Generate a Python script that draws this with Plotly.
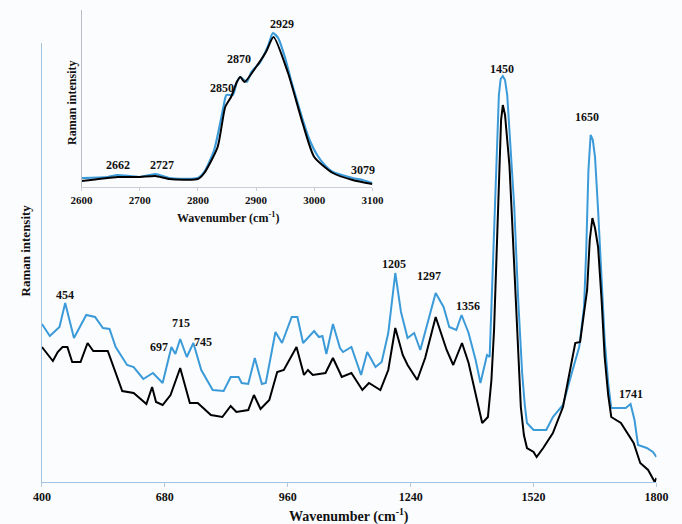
import plotly.graph_objects as go

# Main spectrum, 400-1800 cm-1 (arbitrary intensity units)
wn_blue = [400, 418, 440, 453, 473, 501, 521, 539, 554, 568, 594, 609, 631, 653, 675,
           695, 704, 715, 730, 745, 763, 789, 814, 830, 848, 855, 870, 885, 901, 910,
           932, 947, 969, 982, 995, 1020, 1031, 1039, 1048, 1063, 1079, 1086, 1105,
           1127, 1141, 1160, 1174, 1189, 1205, 1218, 1233, 1248, 1262, 1282, 1297,
           1315, 1328, 1344, 1356, 1372, 1388, 1399, 1414, 1420, 1422, 1427, 1432,
           1437, 1441, 1445, 1450, 1455, 1460, 1465, 1470, 1476, 1485, 1494, 1500,
           1505, 1520, 1549, 1564, 1587, 1609, 1624, 1635, 1640, 1645, 1650, 1655,
           1660, 1667, 1675, 1682, 1690, 1697, 1719, 1730, 1741, 1750, 1758, 1778,
           1792, 1800]
int_blue = [158, 146, 155, 179, 144, 167, 165, 154, 153, 135, 117, 115, 103, 109, 99,
            135, 128, 143, 125, 139, 112, 92, 91, 105, 105, 99, 98, 124, 98, 99,
            150, 139, 165, 165, 139, 151, 145, 146, 128, 158, 134, 130, 135,
            107, 130, 115, 120, 149, 209, 170, 144, 149, 132, 165, 189,
            175, 155, 152, 167, 149, 122, 99, 127, 125, 152, 212, 275,
            342, 387, 403, 406, 402, 387, 352, 317, 275, 182, 109, 77,
            59, 52, 52, 65, 77, 112, 135, 175, 232, 312, 347, 342,
            325, 272, 209, 142, 99, 74, 74, 74, 78, 62, 37, 34,
            30, 25]

wn_black = [400, 425, 436, 447, 458, 469, 488, 504, 517, 550, 583, 609, 638, 651, 660,
            675, 693, 715, 737, 755, 785, 811, 830, 843, 870, 883, 898, 918, 936, 951,
            980, 997, 1006, 1017, 1046, 1063, 1079, 1083, 1105, 1130, 1145, 1171, 1189,
            1205, 1222, 1233, 1255, 1273, 1297, 1322, 1337, 1357, 1372, 1392, 1403,
            1416, 1424, 1430, 1436, 1441, 1446, 1450, 1455, 1460, 1465, 1470, 1475,
            1480, 1485, 1491, 1498, 1505, 1520, 1527, 1542, 1564, 1587, 1615, 1626,
            1635, 1642, 1648, 1654, 1660, 1667, 1675, 1682, 1690, 1697, 1719, 1734,
            1748, 1763, 1781, 1796, 1800]
int_black = [135, 121, 130, 135, 135, 120, 120, 139, 131, 131, 91, 89, 78, 95, 80,
             77, 87, 114, 79, 79, 67, 65, 76, 70, 72, 87, 73, 82, 110, 112,
             135, 107, 112, 107, 109, 124, 109, 105, 109, 92, 99, 92, 112,
             154, 127, 117, 102, 124, 165, 132, 117, 139, 119, 79, 59,
             65, 102, 152, 232, 309, 362, 377, 367, 342, 317, 272, 224,
             175, 122, 75, 47, 34, 30, 25, 34, 49, 75, 139, 140,
             167, 192, 242, 264, 254, 235, 182, 125, 87, 65, 59, 49,
             39, 19, 12, 0, 4]

# High-wavenumber region, 2600-3100 cm-1
wn_hi_blue = [2600, 2645, 2662, 2700, 2727, 2751, 2800, 2811, 2828, 2844, 2849, 2860,
              2867, 2873, 2884, 2892, 2906, 2920, 2929, 2938, 2950, 2960, 2970, 2982,
              2992, 3005, 3018, 3032, 3066, 3083, 3100]
int_hi_blue = [9, 10, 12, 10, 13, 9, 9, 15, 37, 80, 92, 92,
               105, 110, 105, 115, 124, 140, 154, 149, 129, 107, 87, 64,
               47, 32, 22, 15, 9, 7, 4]

wn_hi_black = [2600, 2662, 2700, 2727, 2751, 2800, 2811, 2834, 2847, 2857, 2867, 2873,
               2880, 2900, 2917, 2930, 2955, 2980, 3000, 3032, 3066, 3100]
int_hi_black = [6, 10, 10, 11, 8, 8, 14, 40, 80, 90, 105, 110,
                105, 120, 135, 150, 114, 64, 30, 14, 7, 3]

main_ticks = [400, 680, 960, 1240, 1520, 1800]
inset_ticks = [2600, 2700, 2800, 2900, 3000, 3100]

main_peaks = [454, 697, 715, 745, 1205, 1297, 1356, 1450, 1650, 1741]
main_peak_pos = [(453, 187), (667, 135), (717, 159), (767, 140), (1203, 218),
                 (1282, 206), (1370, 176), (1448, 413), (1642, 365), (1741, 88)]
inset_peaks = [2662, 2727, 2850, 2870, 2929, 3079]
inset_peak_pos = [(2663, 22), (2738, 22), (2841, 99), (2871, 128), (2944, 163), (3084, 17)]

BLUE = "#3b9ad8"
BLACK = "#000000"
FONT = "Liberation Serif"
W, H = 682, 524


def px(x):
    return x / W


def py(y):
    return 1 - y / H


fig = go.Figure()
fig.add_trace(go.Scatter(x=wn_blue, y=int_blue, mode="lines",
                         line=dict(color=BLUE, width=2), xaxis="x", yaxis="y"))
fig.add_trace(go.Scatter(x=wn_black, y=int_black, mode="lines",
                         line=dict(color=BLACK, width=2), xaxis="x", yaxis="y"))
fig.add_trace(go.Scatter(x=wn_hi_blue, y=int_hi_blue, mode="lines",
                         line=dict(color=BLUE, width=2.2, shape="spline", smoothing=0.6),
                         xaxis="x2", yaxis="y2"))
fig.add_trace(go.Scatter(x=wn_hi_black, y=int_hi_black, mode="lines",
                         line=dict(color=BLACK, width=2, shape="spline", smoothing=0.6),
                         xaxis="x2", yaxis="y2"))

annotations = []
for lab, (x, y) in zip(main_peaks, main_peak_pos):
    annotations.append(dict(x=x, y=y, xref="x", yref="y", text=f"<b>{lab}</b>", showarrow=False,
                            font=dict(family=FONT, size=12, color="#111111"),
                            xanchor="center", yanchor="middle"))
for lab, (x, y) in zip(inset_peaks, inset_peak_pos):
    annotations.append(dict(x=x, y=y, xref="x2", yref="y2", text=f"<b>{lab}</b>", showarrow=False,
                            font=dict(family=FONT, size=12, color="#111111"),
                            xanchor="center", yanchor="middle"))

# Axis titles
annotations += [
    dict(x=px(350), y=py(515), xref="paper", yref="paper", showarrow=False,
         text="<b>Wavenumber (cm<sup>-1</sup>)</b>",
         font=dict(family=FONT, size=14, color="#111111"), xanchor="center", yanchor="middle"),
    dict(x=px(15), y=py(250), xref="paper", yref="paper", showarrow=False,
         text="<b>Raman intensity</b>", textangle=-90,
         font=dict(family=FONT, size=13, color="#111111"), xanchor="center", yanchor="middle"),
    dict(x=px(225), y=py(217), xref="paper", yref="paper", showarrow=False,
         text="<b>Wavenumber (cm<sup>-1</sup>)</b>",
         font=dict(family=FONT, size=12, color="#111111"), xanchor="center", yanchor="middle"),
    dict(x=px(63), y=py(103), xref="paper", yref="paper", showarrow=False,
         text="<b>Raman intensity</b>", textangle=-90,
         font=dict(family=FONT, size=12, color="#111111"), xanchor="center", yanchor="middle"),
]

fig.update_layout(
    width=W, height=H,
    margin=dict(l=0, r=0, t=0, b=0),
    paper_bgcolor="#fbfcfe", plot_bgcolor="rgba(0,0,0,0)",
    showlegend=False,
    annotations=annotations,
    xaxis=dict(domain=[px(32), px(668)], range=[400, 1800], tickvals=main_ticks,
               ticktext=[f"<b>{t}</b>" for t in main_ticks],
               showline=True, linecolor="#9fc3e0", linewidth=1, ticks="outside",
               ticklen=4, tickcolor="#b5c9dc", showgrid=False, zeroline=False,
               tickfont=dict(family=FONT, size=12, color="#111111")),
    yaxis=dict(domain=[py(482), py(43)], range=[0, 439], showline=True,
               linecolor="#9fc3e0", linewidth=1, showticklabels=False, ticks="",
               showgrid=False, zeroline=False),
    xaxis2=dict(domain=[px(73), px(374)], range=[2600, 3100], tickvals=inset_ticks,
                ticktext=[f"<b>{t}</b>" for t in inset_ticks], anchor="y2",
                showline=True, linecolor="#c8ced6", linewidth=1, ticks="outside",
                ticklen=3, tickcolor="#c8ced6", showgrid=False, zeroline=False,
                tickfont=dict(family=FONT, size=11, color="#111111")),
    yaxis2=dict(domain=[py(187), py(10)], range=[0, 177], anchor="x2",
                showline=True, linecolor="#b8bcc2", linewidth=1.2, showticklabels=False,
                ticks="", showgrid=False, zeroline=False),
)

fig.write_html("out.html")
